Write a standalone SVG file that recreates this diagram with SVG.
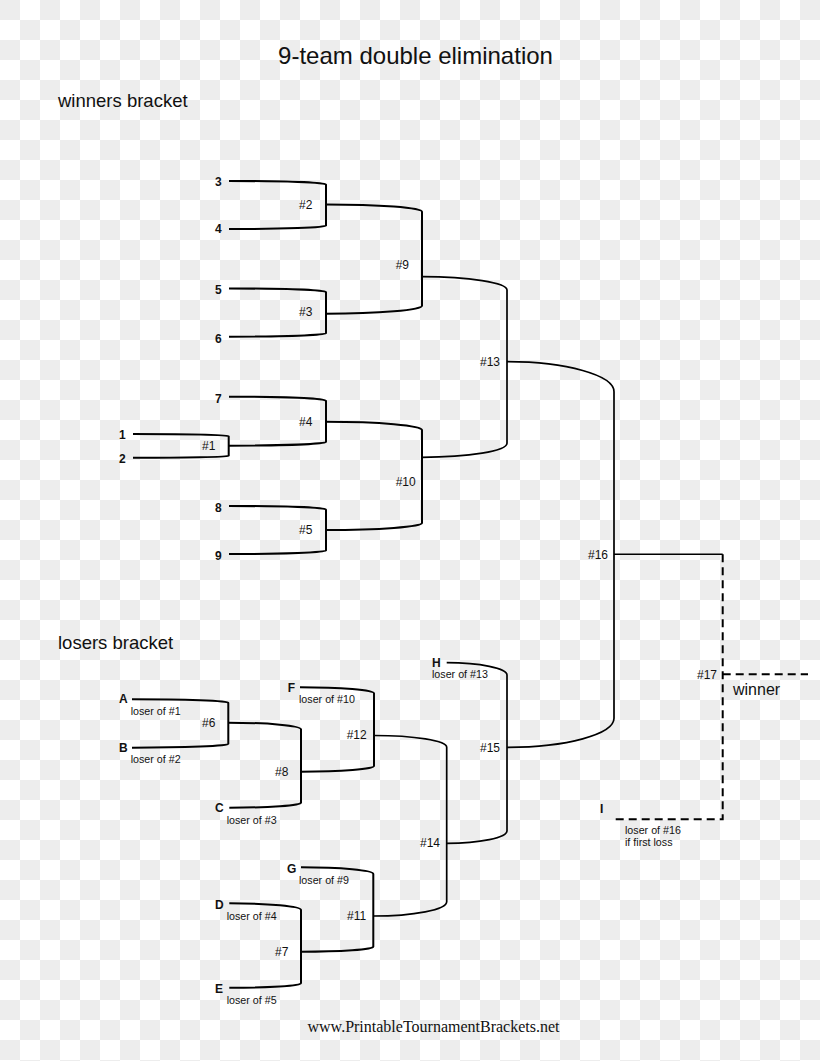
<svg xmlns="http://www.w3.org/2000/svg" width="820" height="1061" viewBox="0 0 820 1061">
<defs>
<pattern id="cb" width="40" height="40" patternUnits="userSpaceOnUse">
<rect width="40" height="40" fill="#ffffff"/>
<rect width="20" height="20" fill="#ededed"/>
<rect x="20" y="20" width="20" height="20" fill="#ededed"/>
</pattern>
</defs>
<style>
text{font-family:"Liberation Sans",Arial,sans-serif;fill:#111}
.seed{font-size:12px;font-weight:bold}
.m{font-size:12px}
.lo{font-size:10.7px}
.h{font-size:18.5px}
.br{fill:none;stroke:#000;stroke-width:2}
.br2{fill:none;stroke:#000;stroke-width:1.7}
.dash{fill:none;stroke:#000;stroke-width:2;stroke-dasharray:8 5}
</style>
<rect width="820" height="1061" fill="url(#cb)"/>
<text x="415.5" y="63.5" text-anchor="middle" style="font-size:24px">9-team double elimination</text>
<text class="h" x="58" y="106.5">winners bracket</text>
<text class="h" x="58" y="649.3">losers bracket</text>

<g id="connectors">
<path class="br" d="M229,181 A97,3.5 0 0 1 326,184.5 V225.7 A97,3.3 0 0 1 229,229"/>
<path class="br" d="M229,288.5 A97,3.5 0 0 1 326,292 V333.3 A97,3.4 0 0 1 229,336.7"/>
<path class="br" d="M133,434 A95.7,2 0 0 1 228.7,436 V456 A95.7,1.7 0 0 1 133,457.7"/>
<path class="br" d="M229,396.7 A97,4 0 0 1 326,400.7 V442 A97.3,3.7 0 0 1 228.7,445.7"/>
<path class="br" d="M229,506 A97,3.5 0 0 1 326,509.5 V550.5 A97,3.5 0 0 1 229,554"/>
<path class="br" d="M326,204.5 A96,7.2 0 0 1 422,211.7 V305.7 A96,8 0 0 1 326,313.7"/>
<path class="br" d="M326,421.7 A96,8.3 0 0 1 422,430 V523 A96,7 0 0 1 326,530"/>
<path class="br2" d="M422,276.7 A85,13.3 0 0 1 507,290 V443.3 A85,14 0 0 1 422,457.3"/>
<path class="br2" d="M507,361.7 A107,30 0 0 1 614,391.7 V718.3 A107,29 0 0 1 507,747.3"/>
<path fill="none" stroke="#000" stroke-width="1.4" d="M614,554.3 H722.7"/>
<path class="dash" d="M722.7,554.3 V819.3 H615"/>
<path class="dash" d="M722.7,674.3 H808"/>
<path class="br" d="M132,699.3 A96.3,3.4 0 0 1 228.3,702.7 V744 A96.3,3.7 0 0 1 132,747.7"/>
<path class="br" d="M228.3,722.7 A72.7,6.6 0 0 1 301,729.3 V802.7 A71.7,5 0 0 1 229.3,807.7"/>
<path class="br" d="M300,687.3 A74,6 0 0 1 374,693.3 V766 A73,5.7 0 0 1 301,771.7"/>
<path class="br" d="M229.3,903.3 A71.7,6.7 0 0 1 301,910 V983.3 A71.7,4.4 0 0 1 229.3,987.7"/>
<path class="br" d="M301,867.3 A72.3,6.7 0 0 1 373.3,874 V946.7 A72.3,5 0 0 1 301,951.7"/>
<path class="br2" d="M374,735.5 A72.7,11.8 0 0 1 446.7,747.3 V901.7 A73.4,14.3 0 0 1 373.3,916"/>
<path class="br2" d="M446.7,662.7 A60.3,12.3 0 0 1 507,675 V830.7 A60.3,12.6 0 0 1 446.7,843.3"/>
</g>

<g id="seed-3"><text class="seed" x="215" y="186">3</text></g>
<g id="seed-4"><text class="seed" x="215" y="233.3">4</text></g>
<g id="seed-5"><text class="seed" x="215" y="294.3">5</text></g>
<g id="seed-6"><text class="seed" x="215" y="342.7">6</text></g>
<g id="seed-7"><text class="seed" x="215" y="402.7">7</text></g>
<g id="seed-1"><text class="seed" x="119" y="439">1</text></g>
<g id="seed-2"><text class="seed" x="119" y="462.7">2</text></g>
<g id="seed-8"><text class="seed" x="215" y="511.7">8</text></g>
<g id="seed-9"><text class="seed" x="215" y="560">9</text></g>

<g id="m1"><text class="m" x="202" y="450">#1</text></g>
<g id="m2"><text class="m" x="299" y="208.7">#2</text></g>
<g id="m3"><text class="m" x="299" y="316">#3</text></g>
<g id="m4"><text class="m" x="299" y="425.7">#4</text></g>
<g id="m5"><text class="m" x="299" y="534.3">#5</text></g>
<g id="m9"><text class="m" x="395.7" y="269.3">#9</text></g>
<g id="m10"><text class="m" x="395.7" y="486">#10</text></g>
<g id="m13"><text class="m" x="480" y="365.5">#13</text></g>
<g id="m16"><text class="m" x="588" y="558.5">#16</text></g>
<g id="m17"><text class="m" x="697" y="678.5">#17</text></g>
<g id="winner"><text x="733" y="695" style="font-size:16px">winner</text></g>

<g id="slot-A"><text class="seed" x="119" y="703.3">A</text><text class="lo" x="130.7" y="715">loser of #1</text></g>
<g id="slot-B"><text class="seed" x="119" y="751.7">B</text><text class="lo" x="130.7" y="763.3">loser of #2</text></g>
<g id="slot-C"><text class="seed" x="215" y="812.3">C</text><text class="lo" x="226.7" y="823.7">loser of #3</text></g>
<g id="slot-F"><text class="seed" x="287.7" y="692.3">F</text><text class="lo" x="299" y="703.3">loser of #10</text></g>
<g id="slot-G"><text class="seed" x="287" y="873.3">G</text><text class="lo" x="299" y="884">loser of #9</text></g>
<g id="slot-D"><text class="seed" x="215" y="909">D</text><text class="lo" x="226.7" y="920">loser of #4</text></g>
<g id="slot-E"><text class="seed" x="215" y="992.7">E</text><text class="lo" x="226.7" y="1004">loser of #5</text></g>
<g id="slot-H"><text class="seed" x="432" y="667.3">H</text><text class="lo" x="432" y="678.3">loser of #13</text></g>
<g id="slot-I"><text class="seed" x="600" y="812.7">I</text><text class="lo" x="625" y="834.3">loser of #16</text><text class="lo" x="625" y="845.7">if first loss</text></g>

<g id="m6"><text class="m" x="202" y="727.3">#6</text></g>
<g id="m8"><text class="m" x="275" y="775.7">#8</text></g>
<g id="m12"><text class="m" x="346.7" y="739.3">#12</text></g>
<g id="m7"><text class="m" x="275" y="955.7">#7</text></g>
<g id="m11"><text class="m" x="347" y="920">#11</text></g>
<g id="m14"><text class="m" x="420" y="847.3">#14</text></g>
<g id="m15"><text class="m" x="480" y="751.7">#15</text></g>

<text x="433.5" y="1032" text-anchor="middle" style="font-family:'Liberation Serif','Times New Roman',serif;font-size:16px">www.PrintableTournamentBrackets.net</text>
</svg>
